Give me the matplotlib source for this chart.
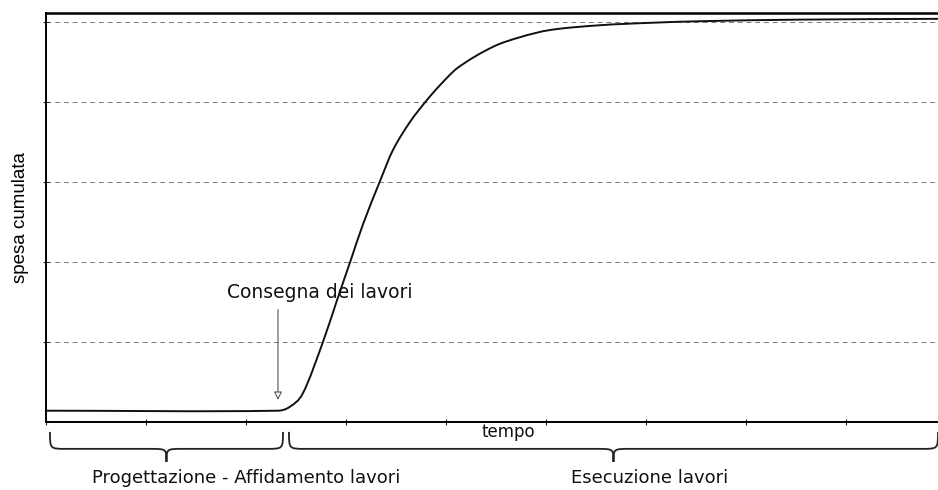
import matplotlib
matplotlib.use("Agg")
import matplotlib.pyplot as plt
import matplotlib.transforms as mtransforms
from matplotlib.path import Path
import matplotlib.patches as patches

# curve (time, cumulative spending)
tempo = [0.0, 2.32, 2.44, 2.57, 2.77, 2.91, 3.05, 3.17, 3.34, 3.47, 3.64,
         3.80, 3.94, 4.12, 4.47, 4.74, 5.04, 5.54, 6.04, 6.54, 7.54, 8.92]
spesa = [0.14, 0.14, 0.19, 0.36, 1.0, 1.52, 2.03, 2.47, 3.01, 3.40, 3.75,
         4.01, 4.21, 4.43, 4.69, 4.81, 4.90, 4.96, 4.99, 5.01, 5.03, 5.04]

grid_levels = [1, 2, 3, 4, 5]
x_ticks = [0, 1, 2, 3, 4, 5, 6, 7, 8]

consegna_t = 2.32
phase_names = ["Progettazione - Affidamento lavori", "Esecuzione lavori"]
phase_start = [0.04, 2.43]
phase_end = [2.37, 8.92]
phase_label_x = [2.0, 6.04]

FONT = "DejaVu Sans"


def smooth_path(xs, ys):
    # cubic hermite through the read points (central-difference slopes), as beziers
    n = len(xs)
    h = [xs[i + 1] - xs[i] for i in range(n - 1)]
    m = [0.0] * n
    m[0] = (ys[1] - ys[0]) / h[0]
    m[-1] = (ys[-1] - ys[-2]) / h[-1]
    for i in range(1, n - 1):
        m[i] = (ys[i + 1] - ys[i - 1]) / (xs[i + 1] - xs[i - 1])
    verts = [(xs[0], ys[0])]
    codes = [Path.MOVETO]
    for i in range(n - 1):
        verts += [(xs[i] + h[i] / 3, ys[i] + m[i] * h[i] / 3),
                  (xs[i + 1] - h[i] / 3, ys[i + 1] - m[i + 1] * h[i] / 3),
                  (xs[i + 1], ys[i + 1])]
        codes += [Path.CURVE4] * 3
    return Path(verts, codes)


def draw_brace(ax, x0, x1, y_top, y_mid, y_tip, r=0.16):
    # curly brace below the axis, x in data units, y in axes fraction
    xm = (x0 + x1) / 2
    verts = [(x0, y_top),
             (x0, y_mid), (x0, y_mid), (x0 + r, y_mid),
             (xm - r, y_mid),
             (xm, y_mid), (xm, y_mid), (xm, y_tip),
             (xm, y_mid), (xm, y_mid), (xm + r, y_mid),
             (x1 - r, y_mid),
             (x1, y_mid), (x1, y_mid), (x1, y_top)]
    codes = [Path.MOVETO,
             Path.CURVE4, Path.CURVE4, Path.CURVE4,
             Path.LINETO,
             Path.CURVE4, Path.CURVE4, Path.CURVE4,
             Path.CURVE4, Path.CURVE4, Path.CURVE4,
             Path.LINETO,
             Path.CURVE4, Path.CURVE4, Path.CURVE4]
    trans = mtransforms.blended_transform_factory(ax.transData, ax.transAxes)
    patch = patches.PathPatch(Path(verts, codes), transform=trans, fill=False,
                              lw=1.3, edgecolor="#222222", clip_on=False)
    ax.add_patch(patch)


fig = plt.figure(figsize=(9.38, 4.9), dpi=100)
ax = fig.add_axes([0.049, 0.139, 0.951, 0.834])

for g in grid_levels:
    ax.axhline(g, color="#777777", lw=0.7, ls=(0, (5, 4)), zorder=1)

curve = patches.PathPatch(smooth_path(tempo, spesa), fill=False,
                          edgecolor="#111111", lw=1.4, zorder=3)
ax.add_patch(curve)

ax.set_xlim(0, 8.92)
ax.set_ylim(0, 5.11)
ax.set_xticks(x_ticks)
ax.set_yticks(grid_levels)
ax.set_xticklabels([])
ax.set_yticklabels([])
ax.tick_params(axis="both", direction="inout", length=5, width=0.8, color="#222222")

ax.spines["right"].set_visible(False)
ax.spines["top"].set_linewidth(1.8)
ax.spines["left"].set_linewidth(1.4)
ax.spines["bottom"].set_linewidth(1.4)

ax.set_ylabel("spesa cumulata", fontsize=13.5, family="Liberation Sans", labelpad=6)

ax.annotate("", xy=(consegna_t, 0.24), xytext=(consegna_t, 1.44),
            arrowprops=dict(arrowstyle="-|>", color="#555555", lw=0.8,
                            fc="white", mutation_scale=12))
ax.text(1.81, 1.62, "Consegna dei lavori", ha="left", va="center",
        fontsize=13.5, family=FONT, color="#111111")

trans = mtransforms.blended_transform_factory(ax.transData, ax.transAxes)
ax.text(4.62, -0.025, "tempo", ha="center", va="center", transform=trans,
        fontsize=12, family=FONT, color="#111111")

for name, x0, x1, lx in zip(phase_names, phase_start, phase_end, phase_label_x):
    draw_brace(ax, x0, x1, -0.0245, -0.066, -0.098)
    ax.text(lx, -0.137, name, ha="center", va="center", transform=trans,
            fontsize=13, family=FONT, color="#111111")

fig.savefig("out.png", dpi=100)
